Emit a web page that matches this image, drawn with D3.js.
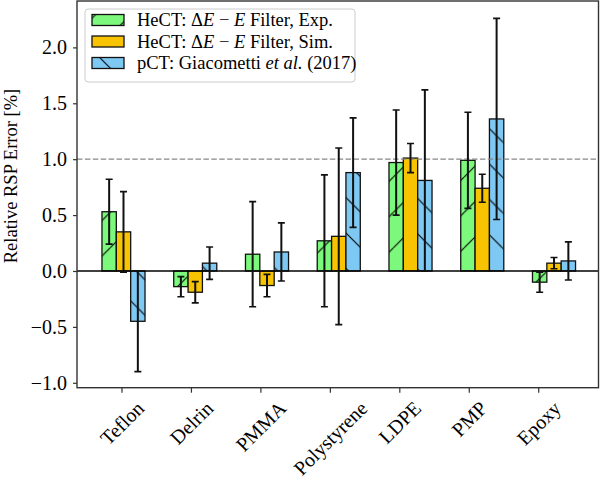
<!DOCTYPE html>
<html>
<head>
<meta charset="utf-8">
<script src="https://cdn.jsdelivr.net/npm/d3@7"></script>
<style>
  body { margin: 0; background: #fff; }
  text { font-family: "Liberation Serif", "DejaVu Serif", serif; fill: #000; }
</style>
</head>
<body>
<div id="chart"></div>
<script>
// materials on the x axis
const materials = ["Teflon", "Delrin", "PMMA", "Polystyrene", "LDPE", "PMP", "Epoxy"];

// relative RSP error [%] and its uncertainty
const expValues = [0.53, -0.14, 0.15, 0.27, 0.97, 0.99, -0.10];
const expErrors = [0.29, 0.09, 0.47, 0.59, 0.47, 0.43, 0.09];
const simValues = [0.35, -0.19, -0.13, 0.31, 1.01, 0.74, 0.07];
const simErrors = [0.36, 0.095, 0.10, 0.79, 0.13, 0.125, 0.05];
const pctValues = [-0.45, 0.07, 0.17, 0.88, 0.81, 1.36, 0.09];
const pctErrors = [0.45, 0.145, 0.26, 0.49, 0.81, 0.90, 0.17];

const yTicks = [-1.0, -0.5, 0.0, 0.5, 1.0, 1.5, 2.0];

const series = [
  {name: "exp", values: expValues, errors: expErrors, color: "#7cf87c", hatch: "hatchFwd"},
  {name: "sim", values: simValues, errors: simErrors, color: "#f8c300", hatch: null},
  {name: "pct", values: pctValues, errors: pctErrors, color: "#7ec8f4", hatch: "hatchBack"}
];

const W = 600, H = 480;
const plot = {left: 77, right: 598.5, top: 1, bottom: 387.7};
const barWidth = 0.2;

const svg = d3.select("#chart").append("svg")
  .attr("width", W)
  .attr("height", H);

// hatch patterns (fixed in page space like matplotlib)
const s = 35.4;
const defs = svg.append("defs");
const fwd = defs.append("pattern")
  .attr("id", "hatchFwd")
  .attr("patternUnits", "userSpaceOnUse")
  .attr("x", 4).attr("y", 0)
  .attr("width", s).attr("height", s);
[-s, 0, s].forEach(o => {
  fwd.append("line")
    .attr("x1", o).attr("y1", s)
    .attr("x2", o + s).attr("y2", 0)
    .attr("stroke", "#000").attr("stroke-width", 1.1);
});
const back = defs.append("pattern")
  .attr("id", "hatchBack")
  .attr("patternUnits", "userSpaceOnUse")
  .attr("x", 6.8).attr("y", 0)
  .attr("width", s).attr("height", s);
[-s, 0, s].forEach(o => {
  back.append("line")
    .attr("x1", o).attr("y1", 0)
    .attr("x2", o + s).attr("y2", s)
    .attr("stroke", "#000").attr("stroke-width", 1.1);
});

// scales
const x = d3.scaleLinear()
  .domain([-0.648, 6.62])
  .range([plot.left, plot.right]);

const y = d3.scaleLinear()
  .domain([-1.044, 2.415])
  .range([plot.bottom, plot.top]);

defs.append("clipPath").attr("id", "plotClip")
  .append("rect")
  .attr("x", plot.left).attr("y", plot.top)
  .attr("width", plot.right - plot.left)
  .attr("height", plot.bottom - plot.top);

const g = svg.append("g").attr("clip-path", "url(#plotClip)");

// bars
series.forEach((sr, j) => {
  const off = (j - 1) * barWidth;
  const bars = g.append("g").selectAll("g")
    .data(sr.values)
    .join("g");
  const rectAttrs = sel => sel
    .attr("x", (d, i) => x(i + off - barWidth / 2))
    .attr("width", x(barWidth) - x(0))
    .attr("y", d => y(Math.max(0, d)))
    .attr("height", d => Math.abs(y(d) - y(0)));
  bars.append("rect").call(rectAttrs)
    .attr("fill", sr.color);
  if (sr.hatch) {
    bars.append("rect").call(rectAttrs)
      .attr("fill", "url(#" + sr.hatch + ")");
  }
  bars.append("rect").call(rectAttrs)
    .attr("fill", "none")
    .attr("stroke", "#111")
    .attr("stroke-width", 1.3);
});

// zero line
g.append("line")
  .attr("x1", plot.left).attr("x2", plot.right)
  .attr("y1", y(0)).attr("y2", y(0))
  .attr("stroke", "#000").attr("stroke-width", 1.4);

// dashed line at 1 %
g.append("line")
  .attr("x1", plot.left).attr("x2", plot.right)
  .attr("y1", y(1)).attr("y2", y(1))
  .attr("stroke", "#888").attr("stroke-width", 1.3)
  .attr("stroke-dasharray", "5.5,2.4");

// error bars
series.forEach((sr, j) => {
  const off = (j - 1) * barWidth;
  const eb = g.append("g").selectAll("g")
    .data(sr.values.map((v, i) => ({v, e: sr.errors[i], i})))
    .join("g")
    .attr("stroke", "#111");
  eb.append("line")
    .attr("x1", d => x(d.i + off)).attr("x2", d => x(d.i + off))
    .attr("y1", d => y(d.v - d.e)).attr("y2", d => y(d.v + d.e))
    .attr("stroke-width", 2);
  [-1, 1].forEach(sign => {
    eb.append("line")
      .attr("x1", d => x(d.i + off) - 3.5).attr("x2", d => x(d.i + off) + 3.5)
      .attr("y1", d => y(d.v + sign * d.e)).attr("y2", d => y(d.v + sign * d.e))
      .attr("stroke-width", 1.6);
  });
});

// y axis
const yAxis = svg.append("g")
  .attr("transform", "translate(" + plot.left + ",0)")
  .call(d3.axisLeft(y).tickValues(yTicks).tickFormat(d3.format(".1f")).tickSize(4).tickPadding(6));
yAxis.select(".domain").remove();
yAxis.selectAll(".tick line").attr("stroke", "#333").attr("stroke-width", 1.2);
yAxis.selectAll(".tick text")
  .attr("font-family", "Liberation Serif")
  .attr("font-size", 20)
  .attr("fill", "#000");

// x axis: tick marks sit slightly left of the bar groups
const tickPos = materials.map((m, i) => i * 0.968 - 0.028);
const xAxis = svg.append("g")
  .attr("transform", "translate(0," + plot.bottom + ")")
  .call(d3.axisBottom(x).tickValues(tickPos).tickFormat((d, i) => materials[i]).tickSize(5));
xAxis.select(".domain").remove();
xAxis.selectAll(".tick line").attr("stroke", "#333").attr("stroke-width", 1.2);
xAxis.selectAll(".tick text")
  .attr("font-family", "Liberation Serif")
  .attr("font-size", 20)
  .attr("fill", "#000")
  .attr("y", 0).attr("dy", null)
  .attr("text-anchor", "middle")
  .attr("dominant-baseline", "central")
  .each(function() {
    const w = this.getComputedTextLength();
    const h = 14;
    const c = (w + h) / (2 * Math.SQRT2);
    d3.select(this).attr("transform", "translate(0," + (12 + c) + ") rotate(-45)");
  });

// frame
svg.append("rect")
  .attr("x", plot.left).attr("y", plot.top)
  .attr("width", plot.right - plot.left)
  .attr("height", plot.bottom - plot.top)
  .attr("fill", "none")
  .attr("stroke", "#333")
  .attr("stroke-width", 1.4);

// y label
svg.append("text")
  .attr("transform", "translate(17,176) rotate(-90)")
  .attr("text-anchor", "middle")
  .attr("font-size", 18.5)
  .text("Relative RSP Error [%]");

// legend
const legend = svg.append("g");
legend.append("rect")
  .attr("x", 85).attr("y", 9)
  .attr("width", 270).attr("height", 73)
  .attr("rx", 3)
  .attr("fill", "#fff").attr("fill-opacity", 0.8)
  .attr("stroke", "#ccc").attr("stroke-width", 1);

const legendRows = [
  {parts: [["HeCT: Δ", false], ["E", true], [" − ", false], ["E", true], [" Filter, Exp.", false]]},
  {parts: [["HeCT: Δ", false], ["E", true], [" − ", false], ["E", true], [" Filter, Sim.", false]]},
  {parts: [["pCT: Giacometti ", false], ["et al.", true], [" (2017)", false]]}
];
legendRows.forEach((row, j) => {
  const cy = 20 + j * 21.5;
  const sr = series[j];
  const patch = sel => sel.attr("x", 92).attr("y", cy - 5.5).attr("width", 32).attr("height", 11);
  legend.append("rect").call(patch).attr("fill", sr.color);
  if (sr.hatch) legend.append("rect").call(patch).attr("fill", "url(#" + sr.hatch + ")");
  legend.append("rect").call(patch).attr("fill", "none").attr("stroke", "#111").attr("stroke-width", 1.3);
  const t = legend.append("text")
    .attr("x", 137).attr("y", cy + 6)
    .attr("font-size", 18.5);
  row.parts.forEach(p => {
    t.append("tspan").attr("font-style", p[1] ? "italic" : "normal").text(p[0]);
  });
});
</script>
</body>
</html>
